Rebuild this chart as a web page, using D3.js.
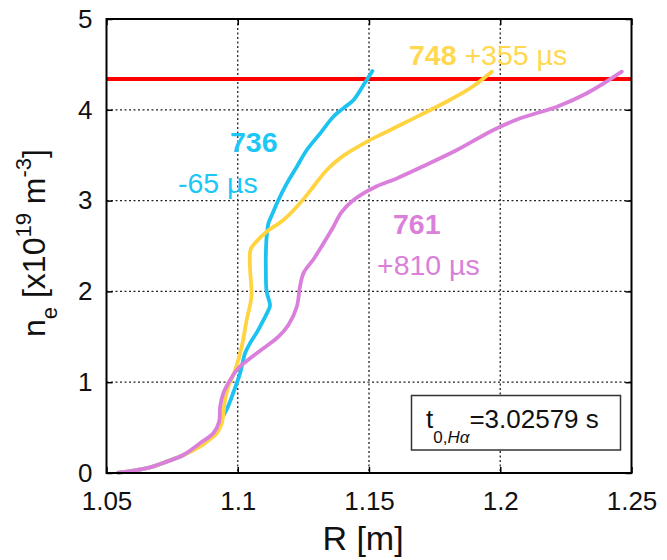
<!DOCTYPE html>
<html><head><meta charset="utf-8">
<script src="https://cdn.jsdelivr.net/npm/d3@7"></script>
<style>
html,body{margin:0;padding:0;background:#fff;}
svg{display:block;font-family:"Liberation Sans",Arial,sans-serif;}
</style></head>
<body><svg id="c" width="667" height="560"></svg>
<script>
// ---- data ----
const xTicks = [1.05, 1.1, 1.15, 1.2, 1.25];
const xTickLabels = ["1.05", "1.1", "1.15", "1.2", "1.25"];
const yTicks = [0, 1, 2, 3, 4, 5];
const yTickLabels = ["0", "1", "2", "3", "4", "5"];
const refLevel = 4.34;

const r736 = [1.0545,1.0602,1.0666,1.0729,1.0793,1.0856,1.0901,1.0926,1.0935,1.0958,1.0985,1.1009,1.1028,1.1047,1.1075,1.1098,1.1118,1.1123,1.1110,1.1107,1.1107,1.1110,1.1117,1.1130,1.1155,1.1187,1.1225,1.1263,1.1314,1.1364,1.1402,1.1441,1.1479,1.1513];
const n736 = [0.003,0.025,0.062,0.125,0.198,0.30,0.40,0.50,0.58,0.70,0.90,1.10,1.32,1.43,1.56,1.685,1.80,1.85,2.00,2.236,2.40,2.60,2.75,2.841,3.007,3.19,3.373,3.557,3.741,3.924,4.016,4.108,4.273,4.427];

const r748 = [1.0545,1.0602,1.0666,1.0729,1.0793,1.0856,1.0882,1.0920,1.0939,1.0945,1.0950,1.0964,1.0990,1.1015,1.1034,1.1052,1.1047,1.1046,1.1050,1.1062,1.1110,1.1174,1.1237,1.1288,1.1339,1.1400,1.1492,1.1568,1.1644,1.1784,1.1885,1.1968];
const n748 = [0.003,0.025,0.062,0.125,0.198,0.29,0.345,0.437,0.547,0.65,0.78,0.95,1.134,1.391,1.685,1.942,2.236,2.40,2.470,2.520,2.657,2.786,2.970,3.153,3.337,3.49,3.649,3.759,3.869,4.072,4.237,4.42];

const r761 = [1.0545,1.0602,1.0666,1.0729,1.0793,1.0856,1.0907,1.0929,1.0933,1.0945,1.0971,1.1002,1.1047,1.1098,1.1155,1.1193,1.1225,1.1237,1.1250,1.1290,1.1314,1.1360,1.1395,1.1441,1.1520,1.1610,1.1700,1.1835,1.1974,1.2076,1.2216,1.2330,1.2463];
const n761 = [0.003,0.025,0.062,0.125,0.198,0.327,0.437,0.565,0.73,0.878,1.024,1.153,1.263,1.373,1.501,1.630,1.831,2.052,2.199,2.36,2.47,2.69,2.87,3.007,3.145,3.25,3.37,3.557,3.778,3.906,4.034,4.182,4.42];

const seriesNames = ["736", "748", "761"];
const seriesOffsets = ["-65 µs", "+355 µs", "+810 µs"];
const seriesColors = ["#1cc3f0", "#ffd440", "#da80dc"];
const textColors = ["#1cc6f5", "#ffd84f", "#da80da"];

// ---- chart ----
const svg = d3.select("#c");
const L = 106.5, R = 631.5, T = 19, B = 473;
const x = d3.scaleLinear().domain([1.05, 1.25]).range([L, R]);
const y = d3.scaleLinear().domain([0, 5]).range([B, T]);

// grid
const g = svg.append("g");
g.selectAll("line.gx").data(xTicks.slice(1, -1)).enter().append("line")
  .attr("x1", d => x(d)).attr("x2", d => x(d)).attr("y1", T).attr("y2", B)
  .attr("stroke", "#222").attr("stroke-width", 1.3).attr("stroke-dasharray", "2,2.5");
g.selectAll("line.gy").data(yTicks.slice(1, -1)).enter().append("line")
  .attr("y1", d => y(d)).attr("y2", d => y(d)).attr("x1", L).attr("x2", R)
  .attr("stroke", "#222").attr("stroke-width", 1.3).attr("stroke-dasharray", "2,2.5");

// axes with inward ticks
const ax = svg.append("g").attr("transform", `translate(0,${B})`)
  .call(d3.axisBottom(x).tickValues(xTicks).tickFormat((d, i) => xTickLabels[i]).tickSizeInner(-6).tickSizeOuter(0).tickPadding(14));
const axT = svg.append("g").attr("transform", `translate(0,${T})`)
  .call(d3.axisTop(x).tickValues(xTicks).tickFormat("").tickSizeInner(-6).tickSizeOuter(0));
const ay = svg.append("g").attr("transform", `translate(${L},0)`)
  .call(d3.axisLeft(y).tickValues(yTicks).tickFormat((d, i) => yTickLabels[i]).tickSizeInner(-6).tickSizeOuter(0).tickPadding(14));
const ayR = svg.append("g").attr("transform", `translate(${R},0)`)
  .call(d3.axisRight(y).tickValues(yTicks).tickFormat("").tickSizeInner(-6).tickSizeOuter(0));
[ax, axT, ay, ayR].forEach(a => {
  a.select(".domain").remove();
  a.selectAll(".tick line").attr("stroke", "#000").attr("stroke-width", 1.5);
  a.selectAll("text").attr("font-size", 26).attr("fill", "#111").attr("font-family", "Liberation Sans, Arial, sans-serif");
});
ax.selectAll("text").attr("dy", "0.71em").attr("y", 19);
ay.selectAll("text").attr("x", -14);

// red reference line
svg.append("line").attr("x1", L).attr("x2", R).attr("y1", y(refLevel)).attr("y2", y(refLevel))
  .attr("stroke", "#ff0000").attr("stroke-width", 4);

// curves
const line = d3.line().x(d => x(d[0])).y(d => y(d[1])).curve(d3.curveCatmullRom.alpha(0.5));
const allR = [r736, r748, r761], allN = [n736, n748, n761];
allR.forEach((rs, i) => {
  const pts = rs.map((r, j) => [r, allN[i][j]]);
  svg.append("path").attr("d", line(pts)).attr("fill", "none")
    .attr("stroke", seriesColors[i]).attr("stroke-width", 3.8)
    .attr("stroke-linejoin", "round").attr("stroke-linecap", "round");
});

// frame
svg.append("rect").attr("x", L).attr("y", T).attr("width", R - L).attr("height", B - T)
  .attr("fill", "none").attr("stroke", "#000").attr("stroke-width", 2);

// series labels
const lab = svg.append("g").attr("font-size", 28.5);
lab.append("text").attr("x", 230).attr("y", 152).attr("font-weight", "bold").attr("fill", textColors[0]).text(seriesNames[0]);
lab.append("text").attr("x", 178).attr("y", 193).attr("fill", textColors[0]).text(seriesOffsets[0]);
const t748 = lab.append("text").attr("x", 409).attr("y", 65).attr("fill", textColors[1]);
t748.append("tspan").attr("font-weight", "bold").text(seriesNames[1]);
t748.append("tspan").text(" " + seriesOffsets[1]);
lab.append("text").attr("x", 393).attr("y", 234).attr("font-weight", "bold").attr("fill", textColors[2]).text(seriesNames[2]);
lab.append("text").attr("x", 377).attr("y", 275).attr("fill", textColors[2]).text(seriesOffsets[2]);

// info box
svg.append("rect").attr("x", 411.5).attr("y", 395.5).attr("width", 209).attr("height", 54.5)
  .attr("fill", "#fff").attr("stroke", "#333").attr("stroke-width", 1.5);
const bt = svg.append("text").attr("x", 426).attr("y", 428).attr("font-size", 26).attr("fill", "#111");
bt.append("tspan").text("t");
bt.append("tspan").attr("font-size", 17).attr("dy", 15).text("0,");
bt.append("tspan").attr("font-size", 17).attr("font-style", "italic").text("Hα");
bt.append("tspan").attr("dy", -15).text("=3.02579 s");

// axis titles
svg.append("text").attr("x", 363).attr("y", 550).attr("text-anchor", "middle")
  .attr("font-size", 34).attr("fill", "#111").text("R [m]");
const yt = svg.append("text").attr("transform", "translate(45,243) rotate(-90)")
  .attr("text-anchor", "middle").attr("font-size", 32).attr("fill", "#111");
yt.append("tspan").text("n");
yt.append("tspan").attr("font-size", 22).attr("dy", 12).text("e");
yt.append("tspan").attr("dy", -12).text(" [x10");
yt.append("tspan").attr("font-size", 22).attr("dy", -14).text("19");
yt.append("tspan").attr("dy", 14).text(" m");
yt.append("tspan").attr("font-size", 22).attr("dy", -14).text("-3");
yt.append("tspan").attr("dy", 14).text("]");
</script></body></html>
